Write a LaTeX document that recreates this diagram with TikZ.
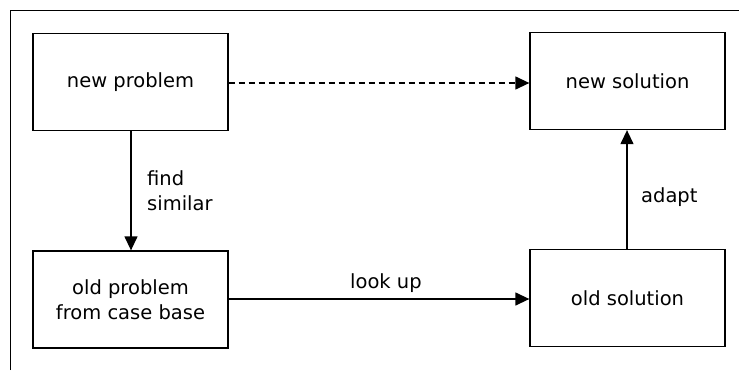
\documentclass[tikz,border=0pt]{standalone}
\usepackage{fontspec}
\setmainfont{DejaVu Sans}
\usetikzlibrary{arrows.meta}
\begin{document}
\begin{tikzpicture}[x=1pt,y=-1pt,
  box/.style={draw,line width=1.3pt,minimum width=195pt,minimum height=97pt,inner sep=0pt,align=center,font=\fontsize{19.5}{25}\selectfont},
  lbl/.style={inner sep=0pt,anchor=base west,font=\fontsize{19.5}{25}\selectfont},
  conn/.style={line width=1.3pt,-{Triangle[length=14pt,width=13pt]}}]
\useasboundingbox (0,0) rectangle (739,370);
\coordinate (f1) at (10,370);
\coordinate (f2) at (10,10);
\coordinate (f3) at (739,10);
\draw[line width=1pt] (f1) -- (f2) -- (f3);
\node[box] (np) at (130.5,82) {new problem};
\node[box] (ns) at (627.5,81) {new solution};
\node[box] (op) at (130.5,299.5) {old problem\\from case base};
\node[box] (os) at (627.5,298) {old solution};
\draw[conn,dashed,dash pattern=on 6pt off 4pt] (np.east |- 0,83) -- (ns.west |- 0,83);
\draw[conn] (np.south -| 131,0) -- (op.north -| 131,0);
\draw[conn] (op.east |- 0,299) -- (os.west |- 0,299);
\draw[conn] (os.north -| 627,0) -- (ns.south -| 627,0);
\node[lbl] (l1) at (147,185) {find};
\node[lbl] (l2) at (147,210.5) {similar};
\node[lbl] (l3) at (350,288) {look up};
\node[lbl] (l4) at (641,202) {adapt};
\end{tikzpicture}
\end{document}
